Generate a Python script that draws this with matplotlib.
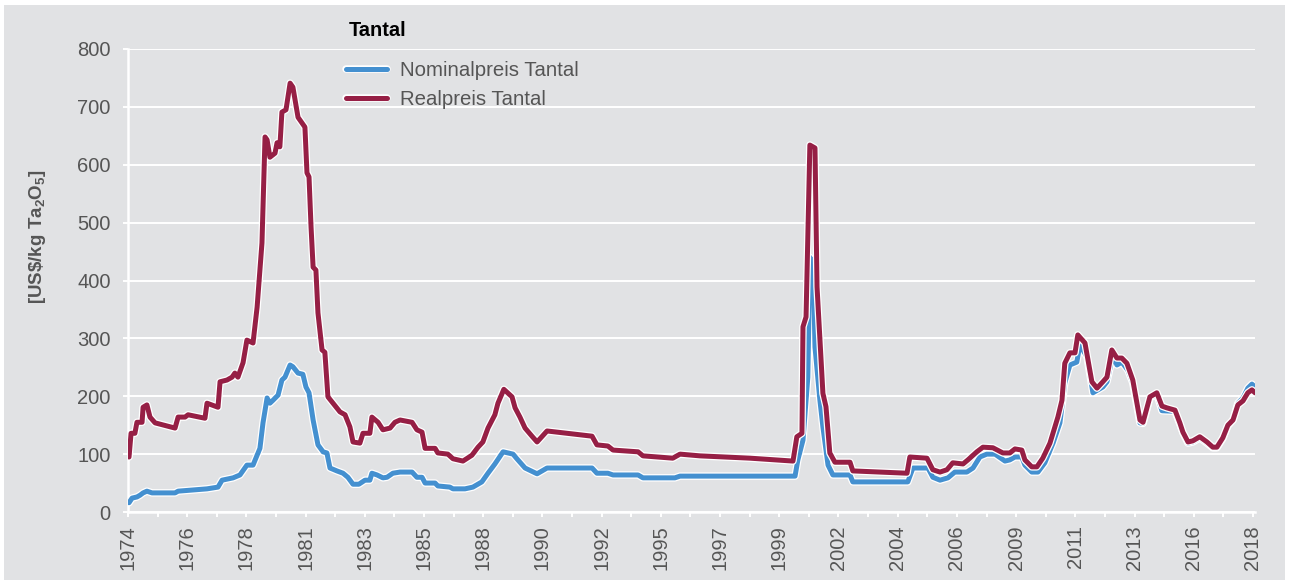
import numpy as np
import matplotlib
matplotlib.use('Agg')
import matplotlib.pyplot as plt
import matplotlib.patheffects as pe
from matplotlib.patches import Rectangle

plt.rcParams['font.family'] = ['Liberation Sans', 'DejaVu Sans']
plt.rcParams['mathtext.fontset'] = 'custom'
plt.rcParams['mathtext.rm'] = 'Liberation Sans:bold'
plt.rcParams['mathtext.it'] = 'Liberation Sans:bold'
plt.rcParams['mathtext.bf'] = 'Liberation Sans:bold'
plt.rcParams['mathtext.default'] = 'rm'

# Realpreis Tantal (US$/kg Ta2O5)
real_years = [1974.04, 1974.12, 1974.27, 1974.35, 1974.55, 1974.59, 1974.74, 1974.86, 1975.06, 1975.84,
              1975.96, 1976.23, 1976.35, 1977.01, 1977.09, 1977.52, 1977.60, 1977.87, 1978.07, 1978.18,
              1978.30, 1978.50, 1978.65, 1978.89, 1979.05, 1979.24, 1979.36, 1979.44, 1979.55, 1979.75,
              1979.83, 1979.94, 1980.02, 1980.18, 1980.34, 1980.45, 1980.65, 1980.92, 1981.00, 1981.08,
              1981.16, 1981.24, 1981.35, 1981.43, 1981.59, 1981.70, 1981.82, 1982.02, 1982.29, 1982.49,
              1982.68, 1982.80, 1983.07, 1983.19, 1983.46, 1983.54, 1983.78, 1983.97, 1984.25, 1984.44,
              1984.64, 1985.11, 1985.30, 1985.50, 1985.62, 1986.01, 1986.12, 1986.51, 1986.71, 1987.10,
              1987.45, 1987.69, 1987.88, 1988.08, 1988.35, 1988.47, 1988.70, 1989.02, 1989.14, 1989.33,
              1989.53, 1989.80, 1990.00, 1990.39, 1992.15, 1992.34, 1992.77, 1992.97, 1993.95, 1994.14,
              1995.31, 1995.59, 1996.37, 1998.33, 2000.01, 2000.16, 2000.36, 2000.40, 2000.52, 2000.67,
              2000.87, 2000.95, 2001.18, 2001.30, 2001.45, 2001.65, 2002.24, 2002.35, 2004.47, 2004.58,
              2005.25, 2005.48, 2005.76, 2006.03, 2006.26, 2006.66, 2006.85, 2007.20, 2007.44, 2007.83,
              2008.22, 2008.49, 2008.69, 2008.96, 2009.08, 2009.35, 2009.55, 2009.78, 2010.06, 2010.37,
              2010.53, 2010.64, 2010.84, 2011.04, 2011.15, 2011.43, 2011.70, 2011.90, 2012.13, 2012.29,
              2012.48, 2012.68, 2012.87, 2013.07, 2013.30, 2013.58, 2013.70, 2013.97, 2014.24, 2014.44,
              2014.63, 2014.95, 2015.14, 2015.26, 2015.46, 2015.65, 2015.92, 2016.20, 2016.43, 2016.59,
              2016.82, 2017.02, 2017.22, 2017.41, 2017.61, 2017.80, 2017.96, 2018.08]
real_price = [95, 136, 136, 155, 155, 181, 185, 164, 154, 145,
              164, 164, 168, 162, 188, 181, 225, 228, 233, 240,
              233, 258, 297, 292, 354, 465, 648, 643, 613, 620,
              638, 631, 691, 695, 741, 734, 682, 665, 586, 579,
              492, 423, 418, 344, 280, 276, 199, 188, 173, 168,
              147, 121, 119, 136, 136, 164, 155, 142, 145, 155,
              159, 155, 142, 138, 110, 110, 102, 100, 92, 88,
              98, 112, 121, 145, 168, 188, 212, 199, 180, 164,
              145, 131, 121, 140, 131, 116, 114, 107, 104, 97,
              93, 100, 97, 93, 88, 130, 136, 320, 337, 634,
              629, 389, 205, 182, 102, 86, 86, 71, 67, 95,
              93, 73, 69, 73, 85, 83, 90, 104, 112, 111,
              102, 102, 109, 107, 90, 78, 78, 93, 119, 164,
              193, 257, 275, 275, 306, 292, 225, 214, 225, 233,
              280, 266, 266, 257, 228, 159, 155, 199, 206, 183,
              180, 176, 154, 138, 121, 123, 130, 121, 112, 112,
              128, 150, 159, 185, 192, 206, 211, 206]

# Nominalpreis Tantal (US$/kg Ta2O5)
nom_years = [1974.04, 1974.16, 1974.35, 1974.47, 1974.59, 1974.74, 1974.94, 1975.84, 1975.96, 1977.09,
             1977.52, 1977.68, 1978.11, 1978.38, 1978.65, 1978.89, 1979.16, 1979.28, 1979.44, 1979.55,
             1979.67, 1979.87, 1980.02, 1980.14, 1980.34, 1980.45, 1980.65, 1980.84, 1980.96, 1981.08,
             1981.24, 1981.43, 1981.63, 1981.78, 1981.90, 1982.17, 1982.41, 1982.60, 1982.80, 1983.03,
             1983.27, 1983.46, 1983.54, 1983.74, 1983.97, 1984.13, 1984.36, 1984.64, 1985.11, 1985.30,
             1985.50, 1985.62, 1986.01, 1986.12, 1986.59, 1986.71, 1987.18, 1987.49, 1987.84, 1988.08,
             1988.35, 1988.67, 1989.06, 1989.21, 1989.53, 1990.00, 1990.39, 1992.15, 1992.34, 1992.77,
             1992.97, 1993.95, 1994.14, 1995.39, 1995.59, 2000.09, 2000.20, 2000.40, 2000.59, 2000.67,
             2000.80, 2000.87, 2001.06, 2001.18, 2001.38, 2001.57, 2002.24, 2002.35, 2004.50, 2004.70,
             2005.29, 2005.48, 2005.76, 2006.07, 2006.34, 2006.81, 2007.05, 2007.32, 2007.59, 2007.91,
             2008.30, 2008.49, 2008.69, 2008.96, 2009.08, 2009.35, 2009.59, 2009.86, 2010.18, 2010.45,
             2010.64, 2010.84, 2011.11, 2011.23, 2011.51, 2011.74, 2012.13, 2012.29, 2012.52, 2012.68,
             2012.87, 2013.11, 2013.30, 2013.58, 2013.70, 2013.97, 2014.24, 2014.44, 2014.95, 2015.14,
             2015.26, 2015.46, 2015.65, 2015.92, 2016.20, 2016.43, 2016.59, 2016.82, 2017.02, 2017.22,
             2017.41, 2017.61, 2017.80, 2017.96, 2018.08]
nom_price = [16, 24, 26, 29, 33, 36, 33, 33, 36, 40,
             43, 55, 59, 64, 81, 81, 110, 154, 197, 188,
             193, 202, 228, 233, 254, 251, 240, 238, 216, 206,
             159, 116, 104, 102, 76, 71, 67, 60, 48, 48,
             55, 55, 67, 64, 59, 60, 67, 69, 69, 60,
             60, 50, 50, 45, 43, 40, 40, 43, 52, 67,
             83, 104, 100, 92, 76, 66, 76, 76, 67, 67,
             64, 64, 59, 59, 62, 62, 90, 124, 233, 440,
             430, 285, 194, 147, 81, 64, 64, 52, 52, 76,
             76, 60, 55, 59, 69, 69, 76, 95, 100, 100,
             88, 90, 95, 95, 81, 69, 69, 85, 119, 154,
             223, 254, 259, 289, 268, 206, 216, 225, 271, 254,
             259, 245, 223, 154, 153, 197, 204, 175, 174, 152,
             137, 119, 121, 128, 119, 111, 111, 127, 149, 159,
             188, 197, 214, 221, 216]

tick_labels = ['1974', '1976', '1978', '1981', '1983', '1985', '1988', '1990', '1992', '1995',
               '1997', '1999', '2002', '2004', '2006', '2009', '2011', '2013', '2016', '2018']

bg = '#e1e2e4'
blue = '#4490d0'
red = '#961f45'
grey_txt = '#555555'
W, H = 1290, 585

fig = plt.figure(figsize=(W / 100, H / 100), dpi=100)
fig.patch.set_facecolor('white')
fig.patches.append(Rectangle((4 / W, 5 / H), 1 - 9 / W, 1 - 10 / H,
                             transform=fig.transFigure, facecolor=bg, edgecolor='none', zorder=-10))

ax = fig.add_axes([128 / W, 73 / H, 1127 / W, 463 / H])
ax.set_facecolor(bg)

outline = [pe.Stroke(linewidth=5.4, foreground='white'), pe.Normal()]
ax.plot(nom_years, nom_price, color=blue, lw=3.6, label='Nominalpreis Tantal',
        path_effects=outline, solid_joinstyle='round', solid_capstyle='round', zorder=3)
ax.plot(real_years, real_price, color=red, lw=3.6, label='Realpreis Tantal',
        path_effects=outline, solid_joinstyle='round', solid_capstyle='round', zorder=4)

ax.set_xlim(1974, 2018.08)
ax.set_ylim(0, 800)

ticks = np.linspace(1974, 2018, len(tick_labels))
ax.set_xticks(ticks)
ax.set_xticklabels(tick_labels, rotation=90)
ax.set_xticks((ticks[:-1] + ticks[1:]) / 2, minor=True)
ax.set_yticks(np.arange(0, 801, 100))

ax.grid(axis='y', color='white', lw=1.4)
ax.set_axisbelow(True)
for s in ['top', 'right']:
    ax.spines[s].set_visible(False)
for s in ['left', 'bottom']:
    ax.spines[s].set_color('white')
    ax.spines[s].set_linewidth(1.8)

ax.tick_params(axis='both', which='both', color='white', width=1.4, length=3.6,
               labelcolor=grey_txt, labelsize=14.5)
ax.tick_params(axis='y', pad=9)
ax.tick_params(axis='x', pad=6)

fig.text(37 / W, 1 - 237 / H, r'[US\$/kg Ta$_2$O$_5$]', rotation=90, ha='center', va='center',
         fontsize=13.5, fontweight='bold', color=grey_txt)

fig.text(349 / W, 1 - 31 / H, 'Tantal', ha='left', va='center', fontsize=14.4,
         fontweight='bold', color='black')
leg = ax.legend(loc='upper left', bbox_to_anchor=(346 / W, 1 - 61 / H),
                bbox_transform=fig.transFigure, frameon=False, borderpad=0, borderaxespad=0,
                fontsize=14.7, handlelength=2.0, handletextpad=0.64, labelspacing=0.5)
for t in leg.get_texts():
    t.set_color(grey_txt)

fig.savefig('out.png', dpi=100, facecolor=fig.get_facecolor())
